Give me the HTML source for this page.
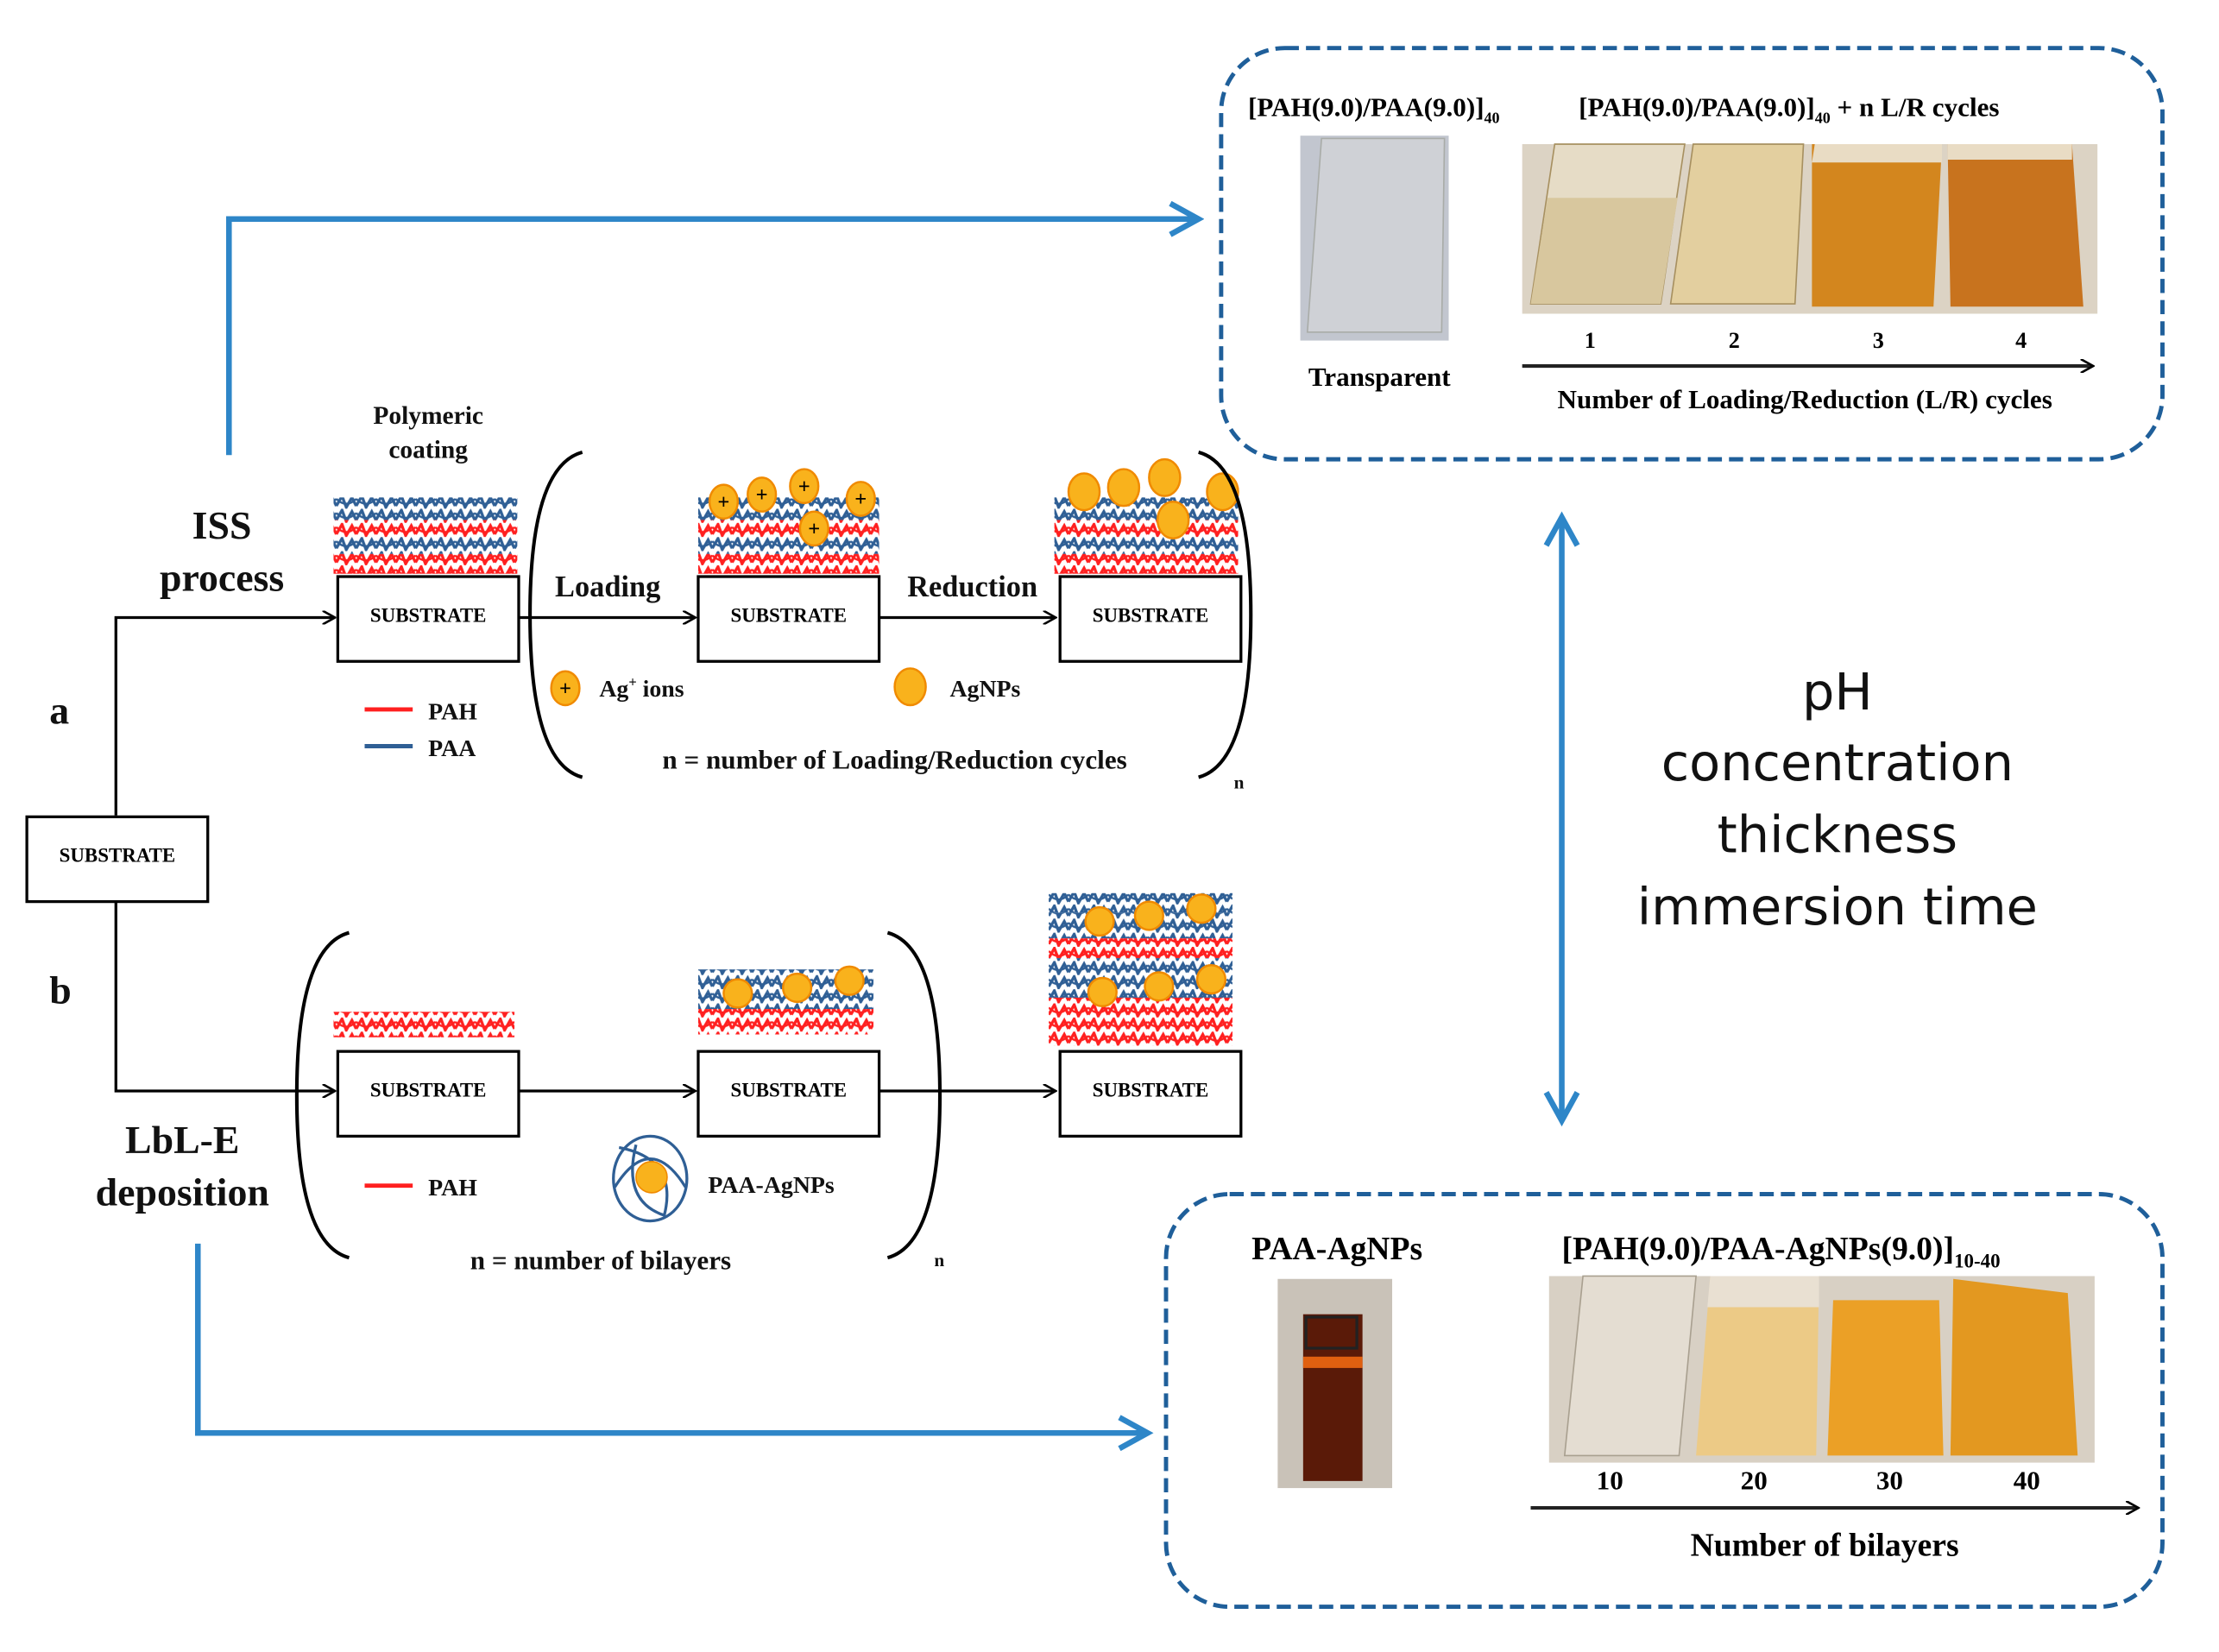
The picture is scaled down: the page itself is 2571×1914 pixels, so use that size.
<!DOCTYPE html>
<html><head><meta charset="utf-8"><style>html,body{margin:0;padding:0;background:#fff}svg{display:block}</style></head><body>
<svg width="2571" height="1914" viewBox="0 0 1570 1169" preserveAspectRatio="none" xmlns="http://www.w3.org/2000/svg" font-family="Liberation Serif, serif">
<defs>
<pattern id="pb" width="14" height="10" patternUnits="userSpaceOnUse"><path d="M0 8 L4 1 L7 9 L11 2 L14 8" stroke="#2f5f95" stroke-width="2" fill="none"/><path d="M0 3 Q7 10 14 3" stroke="#2f5f95" stroke-width="1.5" fill="none"/></pattern>
<pattern id="pr" width="14" height="10" patternUnits="userSpaceOnUse"><path d="M0 8 L4 1 L7 9 L11 2 L14 8" stroke="#ff2020" stroke-width="2" fill="none"/><path d="M0 3 Q7 10 14 3" stroke="#ff2020" stroke-width="1.5" fill="none"/></pattern>
<marker id="ab" markerWidth="10" markerHeight="10" refX="8" refY="5" orient="auto" markerUnits="userSpaceOnUse"><path d="M0 0 L9 5 L0 10" fill="none" stroke="#000" stroke-width="1.6"/></marker>
<marker id="bl" markerWidth="26" markerHeight="26" refX="22" refY="13" orient="auto-start-reverse" markerUnits="userSpaceOnUse"><path d="M2 2 L22 13 L2 24" fill="none" stroke="#2e86c8" stroke-width="4"/></marker>
</defs>
<rect width="1570" height="1169" fill="#fff"/>

<path d="M162 322 V155 H848" fill="none" stroke="#2e86c8" stroke-width="4" marker-end="url(#bl)"/>
<path d="M140 880 V1014 H812" fill="none" stroke="#2e86c8" stroke-width="4" marker-end="url(#bl)"/>
<line x1="1105" y1="366" x2="1105" y2="793" stroke="#2e86c8" stroke-width="4" marker-start="url(#bl)" marker-end="url(#bl)"/>

<rect x="864" y="34" width="666" height="291" rx="45" fill="none" stroke="#1f5f9a" stroke-width="3" stroke-dasharray="10 5"/>
<rect x="825" y="845" width="705" height="292" rx="45" fill="none" stroke="#1f5f9a" stroke-width="3" stroke-dasharray="10 5"/>

<text x="883" y="82" font-size="19" font-weight="bold">[PAH(9.0)/PAA(9.0)]<tspan font-size="11" dy="5">40</tspan></text>
<text x="1117" y="82" font-size="19" font-weight="bold">[PAH(9.0)/PAA(9.0)]<tspan font-size="11" dy="5">40</tspan><tspan dy="-5"> + n L/R cycles</tspan></text>
<rect x="920" y="96" width="105" height="145" fill="#c2c6cf"/>
<path d="M935 98 L925 235 L1020 235 L1022 98Z" fill="#cfd1d6" stroke="#a9aca8"/>
<rect x="1077" y="102" width="407" height="120" fill="#dcd3c4"/>
<path d="M1100 102 L1083 215 L1175 215 L1192 102Z" fill="#e6dcc6" stroke="#a79060"/>
<path d="M1095 140 L1083 215 L1175 215 L1187 140Z" fill="#d8c79e"/>
<path d="M1198 102 L1182 215 L1270 215 L1276 102Z" fill="#e3cf9f" stroke="#a79060"/>
<path d="M1282 102 L1282 217 L1368 217 L1374 102Z" fill="#d3861e"/>
<path d="M1284 102 L1282 115 L1374 115 L1374 102Z" fill="#e9dcc4"/>
<path d="M1378 102 L1380 217 L1474 217 L1466 102Z" fill="#c8731e"/>
<path d="M1378 102 L1378 113 L1466 113 L1466 102Z" fill="#e9dcc4"/>
<g font-size="16" font-weight="bold" text-anchor="middle"><text x="1125" y="246">1</text><text x="1227" y="246">2</text><text x="1329" y="246">3</text><text x="1430" y="246">4</text></g>
<line x1="1077" y1="259" x2="1480" y2="259" stroke="#222" stroke-width="2.5" marker-end="url(#ab)"/>
<text x="976" y="273" font-size="19" font-weight="bold" text-anchor="middle">Transparent</text>
<text x="1277" y="289" font-size="19" font-weight="bold" text-anchor="middle">Number of Loading/Reduction (L/R) cycles</text>

<text x="946" y="891" font-size="23" font-weight="bold" text-anchor="middle">PAA-AgNPs</text>
<text x="1105" y="891" font-size="23" font-weight="bold">[PAH(9.0)/PAA-AgNPs(9.0)]<tspan font-size="14" dy="6">10-40</tspan></text>
<rect x="904" y="905" width="81" height="148" fill="#c9c2b8"/>
<rect x="922" y="930" width="42" height="118" fill="#5a1a08"/>
<rect x="924" y="932" width="36" height="22" fill="none" stroke="#222" stroke-width="2"/>
<rect x="922" y="960" width="42" height="8" fill="#e06010"/>
<rect x="1096" y="903" width="386" height="132" fill="#d8d0c4"/>
<path d="M1120 903 L1107 1030 L1188 1030 L1200 903Z" fill="#e4ddd2" stroke="#a9a090"/>
<path d="M1210 903 L1200 1030 L1285 1030 L1287 903Z" fill="#ecca86"/>
<path d="M1210 903 L1208 925 L1287 925 L1287 903Z" fill="#e9e0d2"/>
<path d="M1297 920 L1293 1030 L1375 1030 L1372 920Z" fill="#eba026"/>
<path d="M1382 905 L1380 1030 L1470 1030 L1463 915Z" fill="#e39820"/>
<g font-size="19" font-weight="bold" text-anchor="middle"><text x="1139" y="1054">10</text><text x="1241" y="1054">20</text><text x="1337" y="1054">30</text><text x="1434" y="1054">40</text></g>
<line x1="1083" y1="1067" x2="1512" y2="1067" stroke="#222" stroke-width="2.5" marker-end="url(#ab)"/>
<text x="1291" y="1101" font-size="23" font-weight="bold" text-anchor="middle">Number of bilayers</text>

<g font-family="DejaVu Sans, sans-serif" font-size="36" text-anchor="middle" fill="#111">
<text x="1300" y="502">pH</text><text x="1300" y="552">concentration</text><text x="1300" y="603">thickness</text><text x="1300" y="654">immersion time</text></g>

<path d="M82 577 V437 H236" fill="none" stroke="#000" stroke-width="2" marker-end="url(#ab)"/>
<path d="M82 638 V772 H236" fill="none" stroke="#000" stroke-width="2" marker-end="url(#ab)"/>
<line x1="367" y1="437" x2="491" y2="437" stroke="#000" stroke-width="2" marker-end="url(#ab)"/>
<line x1="622" y1="437" x2="746" y2="437" stroke="#000" stroke-width="2" marker-end="url(#ab)"/>
<line x1="367" y1="772" x2="491" y2="772" stroke="#000" stroke-width="2" marker-end="url(#ab)"/>
<line x1="622" y1="772" x2="746" y2="772" stroke="#000" stroke-width="2" marker-end="url(#ab)"/>

<g fill="#fff" stroke="#000" stroke-width="2">
<rect x="19" y="578" width="128" height="60"/>
<rect x="239" y="408" width="128" height="60"/><rect x="494" y="408" width="128" height="60"/><rect x="750" y="408" width="128" height="60"/>
<rect x="239" y="744" width="128" height="60"/><rect x="494" y="744" width="128" height="60"/><rect x="750" y="744" width="128" height="60"/>
</g>
<g font-size="14" text-anchor="middle" font-weight="bold">
<text x="83" y="610">SUBSTRATE</text>
<text x="303" y="440">SUBSTRATE</text><text x="558" y="440">SUBSTRATE</text><text x="814" y="440">SUBSTRATE</text>
<text x="303" y="776">SUBSTRATE</text><text x="558" y="776">SUBSTRATE</text><text x="814" y="776">SUBSTRATE</text></g>

<g>
<rect x="236" y="352" width="130" height="16" fill="url(#pb)"/><rect x="236" y="368" width="130" height="12" fill="url(#pr)"/><rect x="236" y="380" width="130" height="12" fill="url(#pb)"/><rect x="236" y="392" width="130" height="14" fill="url(#pr)"/>
<rect x="494" y="352" width="128" height="16" fill="url(#pb)"/><rect x="494" y="368" width="128" height="12" fill="url(#pr)"/><rect x="494" y="380" width="128" height="12" fill="url(#pb)"/><rect x="494" y="392" width="128" height="14" fill="url(#pr)"/>
<rect x="746" y="352" width="130" height="16" fill="url(#pb)"/><rect x="746" y="368" width="130" height="12" fill="url(#pr)"/><rect x="746" y="380" width="130" height="12" fill="url(#pb)"/><rect x="746" y="392" width="130" height="14" fill="url(#pr)"/>
</g>
<g fill="#f9b21c" stroke="#f08a00" stroke-width="1.5">
<ellipse cx="512" cy="355" rx="10" ry="12"/><ellipse cx="539" cy="350" rx="10" ry="12"/><ellipse cx="569" cy="344" rx="10" ry="12"/><ellipse cx="609" cy="353" rx="10" ry="12"/><ellipse cx="576" cy="374" rx="10" ry="12"/>
<ellipse cx="767" cy="348" rx="11" ry="13"/><ellipse cx="795" cy="345" rx="11" ry="13"/><ellipse cx="824" cy="338" rx="11" ry="13"/><ellipse cx="865" cy="348" rx="11" ry="13"/><ellipse cx="830" cy="368" rx="11" ry="13"/>
<ellipse cx="400" cy="487" rx="10" ry="12"/><ellipse cx="644" cy="486" rx="11" ry="13"/>
</g>
<g font-size="15" font-weight="bold" text-anchor="middle"><text x="512" y="360">+</text><text x="539" y="355">+</text><text x="569" y="349">+</text><text x="609" y="358">+</text><text x="576" y="379">+</text><text x="400" y="492">+</text></g>

<rect x="236" y="716" width="128" height="18" fill="url(#pr)"/>
<rect x="494" y="686" width="124" height="16" fill="url(#pb)"/><rect x="494" y="702" width="124" height="12" fill="url(#pb)"/><rect x="494" y="714" width="124" height="18" fill="url(#pr)"/>
<rect x="742" y="632" width="130" height="14" fill="url(#pb)"/><rect x="742" y="646" width="130" height="18" fill="url(#pb)"/><rect x="742" y="664" width="130" height="14" fill="url(#pr)"/><rect x="742" y="678" width="130" height="14" fill="url(#pb)"/><rect x="742" y="692" width="130" height="14" fill="url(#pb)"/><rect x="742" y="706" width="130" height="14" fill="url(#pr)"/><rect x="742" y="720" width="130" height="20" fill="url(#pr)"/>
<g fill="#f9b21c" stroke="#f08a00" stroke-width="1.5">
<circle cx="522" cy="703" r="10"/><circle cx="564" cy="699" r="10"/><circle cx="601" cy="694" r="10"/>
<circle cx="778" cy="652" r="10"/><circle cx="813" cy="648" r="10"/><circle cx="850" cy="643" r="10"/><circle cx="780" cy="702" r="10"/><circle cx="820" cy="698" r="10"/><circle cx="857" cy="693" r="10"/>
</g>
<g fill="none" stroke="#2f5f95" stroke-width="2"><ellipse cx="460" cy="834" rx="26" ry="30"/><path d="M438 812 Q480 820 470 860 Q440 850 450 810 M435 840 Q460 800 485 840"/></g>
<circle cx="461" cy="833" r="11" fill="#f9b21c" stroke="#f08a00"/>

<g fill="none" stroke="#000" stroke-width="2.5">
<path d="M412 320 Q375 330 375 435 Q375 540 412 550"/>
<path d="M848 320 Q885 330 885 435 Q885 540 848 550"/>
<path d="M247 660 Q210 670 210 775 Q210 880 247 890"/>
<path d="M628 660 Q665 670 665 775 Q665 880 628 890"/>
</g>

<line x1="258" y1="502" x2="292" y2="502" stroke="#ff2020" stroke-width="3"/><line x1="258" y1="528" x2="292" y2="528" stroke="#2f5f95" stroke-width="3"/>
<line x1="258" y1="839" x2="292" y2="839" stroke="#ff2020" stroke-width="3"/>

<g font-weight="bold" fill="#111">
<text x="303" y="300" font-size="18" text-anchor="middle">Polymeric</text>
<text x="303" y="324" font-size="18" text-anchor="middle">coating</text>
<text x="157" y="381" font-size="28" text-anchor="middle">ISS</text>
<text x="157" y="418" font-size="28" text-anchor="middle">process</text>
<text x="430" y="422" font-size="21" text-anchor="middle">Loading</text>
<text x="688" y="422" font-size="21" text-anchor="middle">Reduction</text>
<text x="303" y="509" font-size="17">PAH</text><text x="303" y="535" font-size="17">PAA</text>
<text x="424" y="493" font-size="17">Ag<tspan font-size="10" dy="-7">+</tspan><tspan dy="7"> ions</tspan></text>
<text x="672" y="493" font-size="17">AgNPs</text>
<text x="633" y="544" font-size="19" text-anchor="middle">n = number of Loading/Reduction cycles</text>
<text x="873" y="558" font-size="13">n</text>
<text x="35" y="512" font-size="28">a</text>
<text x="35" y="710" font-size="28">b</text>
<text x="129" y="816" font-size="28" text-anchor="middle">LbL-E</text>
<text x="129" y="853" font-size="28" text-anchor="middle">deposition</text>
<text x="303" y="846" font-size="17">PAH</text>
<text x="501" y="844" font-size="17">PAA-AgNPs</text>
<text x="425" y="898" font-size="19" text-anchor="middle">n = number of bilayers</text>
<text x="661" y="896" font-size="13">n</text>
</g>
</svg>
</body></html>
